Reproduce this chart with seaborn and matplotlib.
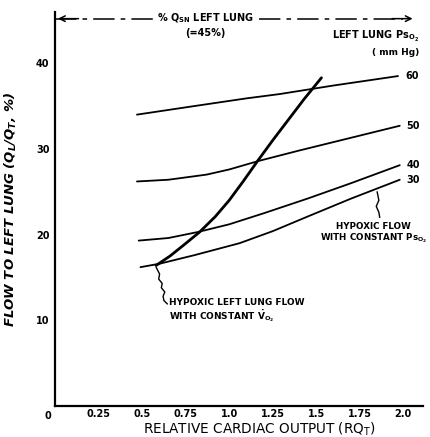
import numpy as np
import pandas as pd
import matplotlib
matplotlib.use("Agg")
import matplotlib.pyplot as plt
import seaborn as sns

# Curves (relative cardiac output vs % flow to left lung)
rq_30 = [0.49, 0.60, 0.80, 1.06, 1.25, 1.45, 1.70, 1.98]
flow_30 = [16.2, 16.6, 17.6, 19.0, 20.4, 22.1, 24.2, 26.4]

rq_40 = [0.48, 0.65, 0.82, 1.00, 1.20, 1.45, 1.70, 1.98]
flow_40 = [19.3, 19.6, 20.3, 21.2, 22.5, 24.2, 26.0, 28.1]

rq_50 = [0.47, 0.65, 0.87, 1.00, 1.17, 1.40, 1.70, 1.98]
flow_50 = [26.2, 26.4, 27.0, 27.6, 28.6, 29.8, 31.3, 32.7]

rq_60 = [0.47, 0.80, 1.10, 1.29, 1.60, 1.97]
flow_60 = [34.0, 35.0, 35.9, 36.4, 37.4, 38.5]

rq_vo2 = [0.58, 0.66, 0.74, 0.83, 0.92, 1.00, 1.08, 1.16, 1.25, 1.34, 1.43, 1.53]
flow_vo2 = [16.4, 17.5, 18.8, 20.3, 22.1, 24.0, 26.2, 28.5, 31.0, 33.4, 35.8, 38.3]

pso2_labels = ["30", "40", "50", "60"]
x_ticks = [0.25, 0.5, 0.75, 1.0, 1.25, 1.5, 1.75, 2.0]
x_ticklabels = ["0.25", "0.5", "0.75", "1.0", "1.25", "1.5", "1.75", "2.0"]
y_ticks = [10, 20, 30, 40]

sns.set_style("white")
plt.rcParams["font.family"] = ["DejaVu Sans"]
plt.rcParams["mathtext.default"] = "regular"
plt.rcParams["text.color"] = "black"
plt.rcParams["axes.labelcolor"] = "black"
plt.rcParams["xtick.color"] = "black"
plt.rcParams["ytick.color"] = "black"

fig = plt.figure(figsize=(4.31, 4.37), dpi=100)
ax = fig.add_axes([0.128, 0.071, 0.854, 0.902])

curves = [(rq_30, flow_30), (rq_40, flow_40), (rq_50, flow_50), (rq_60, flow_60)]
for (xs, ys), lab in zip(curves, pso2_labels):
    sns.lineplot(x=xs, y=ys, ax=ax, color="black", linewidth=1.3, sort=False)
    ax.text(xs[-1] + 0.04, ys[-1], lab, fontsize=7, fontweight="bold",
            ha="left", va="center")

sns.lineplot(x=rq_vo2, y=flow_vo2, ax=ax, color="black", linewidth=2.0, sort=False)

ax.set_xlim(0, 2.115)
ax.set_ylim(0, 46)
ax.set_xticks(x_ticks)
ax.set_xticklabels(x_ticklabels, fontsize=7, fontweight="bold")
ax.set_yticks(y_ticks)
ax.set_yticklabels([str(t) for t in y_ticks], fontsize=7, fontweight="bold")
ax.tick_params(axis="x", direction="in", length=4, width=1.2, pad=2)
ax.tick_params(axis="y", direction="out", length=3, width=1.2, pad=1)
ax.text(-0.04, -0.6, "0", fontsize=7, fontweight="bold", ha="center", va="top")

for s in ["top", "right"]:
    ax.spines[s].set_visible(False)
for s in ["left", "bottom"]:
    ax.spines[s].set_color("black")
    ax.spines[s].set_linewidth(1.6)

fig.text(0.603, 0.007, "RELATIVE CARDIAC OUTPUT (RQ$_T$)", fontsize=9.8,
         ha="center", va="baseline")
ax.set_ylabel("FLOW TO LEFT LUNG (Q$_L$/Q$_T$, %)", fontsize=9.5,
              fontweight="bold", fontstyle="italic", labelpad=12)

# top double arrow: % Qsn left lung
y_arr = 45.2
dash = (0, (14, 4, 3, 4))
ax.plot([0.0, 0.56], [y_arr, y_arr], color="black", lw=1.1, linestyle=dash)
ax.plot([1.17, 2.0], [y_arr, y_arr], color="black", lw=1.1, linestyle=dash)
ax.annotate("", xy=(0.0, y_arr), xytext=(0.15, y_arr),
            arrowprops=dict(arrowstyle="->", color="black", lw=1.1))
ax.annotate("", xy=(2.07, y_arr), xytext=(1.92, y_arr),
            arrowprops=dict(arrowstyle="->", color="black", lw=1.1))
ax.text(0.865, y_arr, "% Q$_{SN}$ LEFT LUNG", fontsize=7, fontweight="bold",
        ha="center", va="center")
ax.text(0.865, 43.5, "(=45%)", fontsize=7, fontweight="bold",
        ha="center", va="center")

ax.text(2.09, 43.1, "LEFT LUNG Ps$_{O_2}$", fontsize=7, fontweight="bold",
        ha="right", va="center")
ax.text(2.09, 41.3, "( mm Hg)", fontsize=6.5, fontweight="bold",
        ha="right", va="center")

# annotation for constant PsO2 curve
ax.plot([1.85, 1.86, 1.845, 1.86, 1.865], [25.0, 24.0, 23.3, 22.6, 22.0],
        color="black", lw=1.0)
ax.text(1.83, 21.5, "HYPOXIC FLOW\nWITH CONSTANT Ps$_{O_2}$", fontsize=6.3,
        fontweight="bold", ha="center", va="top", linespacing=1.1)

# annotation for constant VO2 curve
ax.plot([0.58, 0.60, 0.595, 0.615, 0.61, 0.63, 0.62, 0.625, 0.645],
        [16.2, 15.4, 14.8, 14.3, 13.8, 13.3, 12.8, 12.3, 11.9],
        color="black", lw=1.0)
ax.text(0.655, 12.6, "HYPOXIC LEFT LUNG FLOW\nWITH CONSTANT $\\dot{V}_{O_2}$",
        fontsize=6.5, fontweight="bold", ha="left", va="top", linespacing=1.1)

fig.savefig("out.png", dpi=100)
